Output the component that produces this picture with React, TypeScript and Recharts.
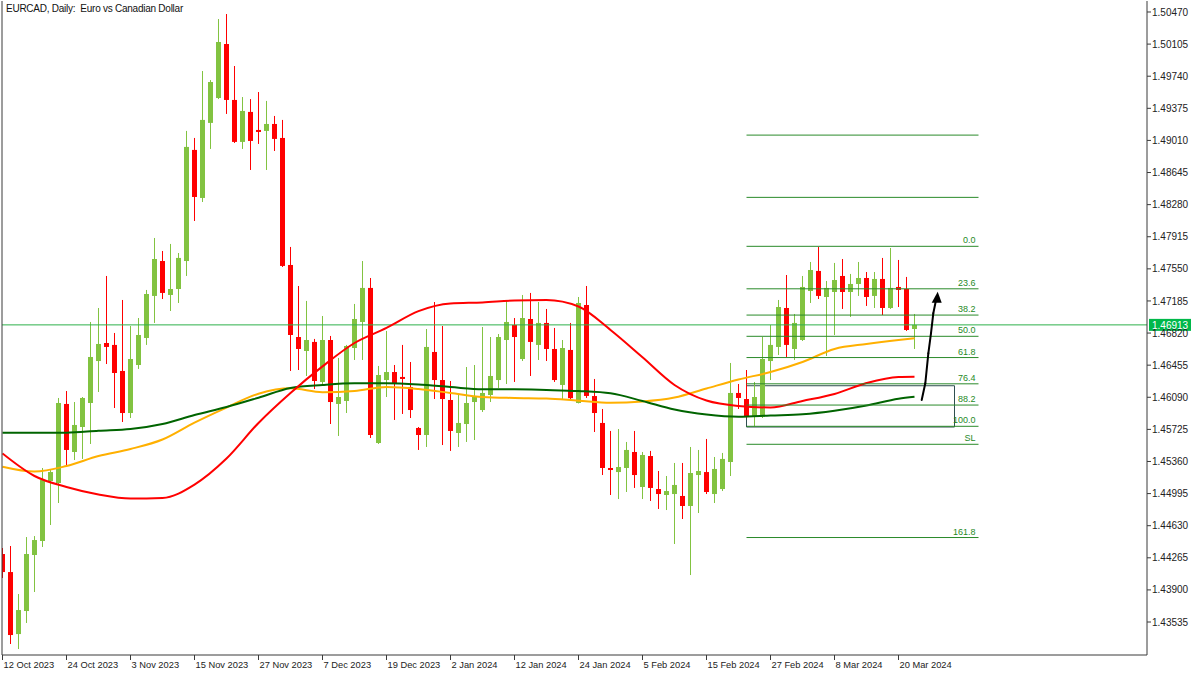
import React from 'react';
import {
  ComposedChart,
  Bar,
  Line,
  XAxis,
  YAxis,
  ReferenceLine,
  ReferenceArea,
  ReferenceDot,
} from 'recharts';

// ---------- DATA (EURCAD daily, 12 Oct 2023 – 22 Mar 2024) ----------
const opens = [
  1.44308, 1.44103, 1.43398, 1.4366, 1.44297, 1.44456, 1.45138, 1.45115, 1.46014, 1.45468,
  1.45752, 1.46025, 1.46502, 1.46707, 1.46685, 1.46389, 1.45911, 1.46457, 1.46764, 1.47242,
  1.47639, 1.47253, 1.47321, 1.47639, 1.48902, 1.48356, 1.49209, 1.49492, 1.50106, 1.4947,
  1.48993, 1.49334, 1.49129, 1.49118, 1.49197, 1.49038, 1.47594, 1.46775, 1.46616, 1.46719,
  1.46264, 1.46741, 1.46014, 1.46048, 1.4665, 1.46946, 1.47333, 1.4557, 1.46286, 1.46377,
  1.46321, 1.46207, 1.45741, 1.45661, 1.46605, 1.46286, 1.46059, 1.45684, 1.45786, 1.46036,
  1.45945, 1.46116, 1.46286, 1.46741, 1.46912, 1.46525, 1.4698, 1.46685, 1.46935, 1.46639,
  1.4623, 1.46628, 1.46025, 1.47139, 1.46104, 1.45798, 1.45286, 1.4524, 1.45286, 1.45468,
  1.4507, 1.45422, 1.45047, 1.44979, 1.4499, 1.44968, 1.44854, 1.45206, 1.4524, 1.4499,
  1.45047, 1.45354, 1.46139, 1.4607, 1.45866, 1.45866, 1.46502, 1.46662, 1.47105, 1.46639,
  1.46741, 1.47298, 1.47526, 1.4723, 1.47287, 1.47469, 1.47287, 1.47378, 1.47446, 1.47242,
  1.47435, 1.47105, 1.47344, 1.47321, 1.46866,
];
const highs = [
  1.44376, 1.44399, 1.43853, 1.44501, 1.44512, 1.45286, 1.45263, 1.46082, 1.46161, 1.46036,
  1.46093, 1.46946, 1.47105, 1.47469, 1.46821, 1.47196, 1.469, 1.46991, 1.4731, 1.47901,
  1.47753, 1.47833, 1.4773, 1.49118, 1.49038, 1.49799, 1.49696, 1.5039, 1.50447, 1.49856,
  1.49503, 1.4948, 1.4956, 1.49459, 1.49288, 1.49243, 1.47799, 1.47355, 1.47185, 1.46753,
  1.47014, 1.46787, 1.46537, 1.46685, 1.47151, 1.47639, 1.47446, 1.46446, 1.46844, 1.46457,
  1.46685, 1.46491, 1.45752, 1.46866, 1.47173, 1.469, 1.46275, 1.46116, 1.46434, 1.46457,
  1.46889, 1.46775, 1.46809, 1.47196, 1.46991, 1.47253, 1.47276, 1.47173, 1.47094, 1.46878,
  1.46741, 1.46935, 1.4723, 1.47355, 1.46298, 1.45957, 1.45707, 1.45729, 1.45582, 1.45707,
  1.45468, 1.4548, 1.45252, 1.45195, 1.45343, 1.45343, 1.45525, 1.45491, 1.45616, 1.45411,
  1.45457, 1.4648, 1.46241, 1.464, 1.46264, 1.46775, 1.46912, 1.47196, 1.4748, 1.47037,
  1.47469, 1.47628, 1.47799, 1.47412, 1.47617, 1.47662, 1.47492, 1.47628, 1.47514, 1.47514,
  1.47674, 1.47787, 1.47651, 1.47458, 1.47037,
];
const lows = [
  1.44035, 1.43285, 1.43228, 1.43524, 1.43876, 1.44388, 1.44638, 1.44888, 1.45309, 1.45377,
  1.45389, 1.45559, 1.4615, 1.46468, 1.45968, 1.45809, 1.45854, 1.46412, 1.46685, 1.46935,
  1.47207, 1.47071, 1.47162, 1.47469, 1.48094, 1.4831, 1.48913, 1.4948, 1.49311, 1.48981,
  1.48913, 1.48674, 1.4897, 1.48674, 1.4889, 1.47571, 1.46389, 1.464, 1.46332, 1.46184,
  1.46241, 1.45786, 1.4565, 1.45911, 1.46514, 1.46514, 1.45627, 1.45559, 1.46093, 1.45832,
  1.459, 1.45854, 1.45491, 1.45525, 1.4607, 1.45547, 1.4548, 1.45525, 1.45582, 1.45604,
  1.45923, 1.46036, 1.46196, 1.46241, 1.46264, 1.46502, 1.46332, 1.46514, 1.46502, 1.46264,
  1.4607, 1.4607, 1.4602, 1.46082, 1.45695, 1.45206, 1.44979, 1.44933, 1.45013, 1.45059,
  1.44933, 1.44911, 1.4482, 1.44808, 1.44422, 1.44706, 1.44069, 1.44774, 1.4499, 1.44888,
  1.45024, 1.45195, 1.45957, 1.45854, 1.45752, 1.45854, 1.46286, 1.46571, 1.46548, 1.46514,
  1.4673, 1.47162, 1.47207, 1.46559, 1.46798, 1.47094, 1.47003, 1.47242, 1.47128, 1.47105,
  1.47025, 1.47094, 1.47116, 1.46844, 1.46639,
];
const closes = [
  1.44103, 1.43387, 1.43671, 1.44308, 1.44467, 1.45149, 1.4524, 1.46025, 1.45491, 1.45775,
  1.46082, 1.46548, 1.46696, 1.46662, 1.46366, 1.45911, 1.46525, 1.46798, 1.47264, 1.47662,
  1.47276, 1.47321, 1.47674, 1.48936, 1.48367, 1.49243, 1.49674, 1.50129, 1.4947, 1.48993,
  1.49345, 1.49004, 1.49106, 1.49197, 1.49027, 1.47583, 1.46798, 1.46639, 1.46741, 1.46275,
  1.46741, 1.46036, 1.46093, 1.46673, 1.4698, 1.47333, 1.45661, 1.46343, 1.46377, 1.46252,
  1.46298, 1.45945, 1.45661, 1.46662, 1.46286, 1.4607, 1.45707, 1.45798, 1.46025, 1.46093,
  1.46139, 1.46332, 1.46775, 1.46946, 1.46775, 1.46991, 1.46719, 1.46935, 1.46639, 1.46286,
  1.4665, 1.4608, 1.47162, 1.46105, 1.45911, 1.45286, 1.45263, 1.45297, 1.45491, 1.45206,
  1.45434, 1.45059, 1.4499, 1.45024, 1.45093, 1.44854, 1.45229, 1.45252, 1.45013, 1.45275,
  1.45389, 1.46139, 1.46082, 1.45866, 1.46093, 1.46525, 1.46685, 1.47116, 1.46685, 1.46935,
  1.47344, 1.47537, 1.47242, 1.47333, 1.47423, 1.47287, 1.47378, 1.47446, 1.4723, 1.47435,
  1.47105, 1.47333, 1.4731, 1.46855, 1.46913,
];

// moving averages, read at every 4th bar
const maIndex = [
  0, 4, 8, 12, 16, 20, 24, 28, 32, 36, 40, 44, 48, 52, 56, 60, 64, 68, 72, 76, 80, 84, 88, 92,
  96, 100, 104, 108, 112, 114,
];
const maRed = [
  1.45451, 1.45195, 1.4507, 1.44985, 1.44939, 1.44945, 1.45098, 1.45394, 1.45798, 1.46139,
  1.46441, 1.46707, 1.46878, 1.47069, 1.47156, 1.47168, 1.4719, 1.47196, 1.47122, 1.46855,
  1.46545, 1.4623, 1.46053, 1.45991, 1.45974, 1.46048, 1.46127, 1.46252, 1.46321, 1.46324,
];
const maOrange = [
  1.45301, 1.45246, 1.45309, 1.45422, 1.45502, 1.4561, 1.45802, 1.45973, 1.4613, 1.46192,
  1.46147, 1.46161, 1.46207, 1.46184, 1.46139, 1.46093, 1.46082, 1.46076, 1.46051, 1.46028,
  1.46042, 1.46087, 1.4619, 1.46292, 1.46377, 1.46491, 1.46639, 1.46696, 1.46741, 1.4676,
];
const maGreen = [
  1.45687, 1.45687, 1.45687, 1.4571, 1.45729, 1.45786, 1.45888, 1.45979, 1.46085, 1.46196,
  1.4623, 1.46249, 1.46249, 1.46235, 1.46207, 1.46181, 1.46181, 1.46173, 1.46161, 1.46135,
  1.46048, 1.45951, 1.45894, 1.45869, 1.45883, 1.45897, 1.45937, 1.45997, 1.46074, 1.46097,
];

const dateTickIndex = [0, 8, 16, 24, 32, 40, 48, 56, 64, 72, 80, 88, 96, 104, 112];
const dateTickLabels = [
  '12 Oct 2023', '24 Oct 2023', '3 Nov 2023', '15 Nov 2023', '27 Nov 2023', '7 Dec 2023',
  '19 Dec 2023', '2 Jan 2024', '12 Jan 2024', '24 Jan 2024', '5 Feb 2024', '15 Feb 2024',
  '27 Feb 2024', '8 Mar 2024', '20 Mar 2024',
];
const priceTicks = [
  1.5047, 1.50105, 1.4974, 1.49375, 1.4901, 1.48645, 1.4828, 1.47915, 1.4755, 1.47185, 1.4682,
  1.46455, 1.4609, 1.45725, 1.4536, 1.44995, 1.4463, 1.44265, 1.439, 1.43535,
];
const lastPrice = 1.46913;

// Fibonacci tool
const fibHigh = 1.47806;
const fibLow = 1.4576;
const fibStartIdx = 93;
const fibEndIdx = 122;
const fibLevels = [-61.8, -27.2, 0, 23.6, 38.2, 50, 61.8, 76.4, 88.2, 100, 110, 161.8];
const fibLabels = ['', '', '0.0', '23.6', '38.2', '50.0', '61.8', '76.4', '88.2', '100.0', 'SL', '161.8'];

// demand zone rectangle
const zoneStartIdx = 93;
const zoneEndIdx = 119;
const zoneTop = 1.46221;
const zoneBottom = 1.45752;

// hand-drawn arrow
const arrowIdx = [114.9, 115.35, 115.73, 116.06, 116.35, 116.69];
const arrowPrice = [1.46059, 1.46249, 1.4659, 1.46817, 1.47045, 1.47196];
const arrowTipIdx = 116.9;
const arrowTipPrice = 1.4729;

// ---------- STYLE ----------
const FONT = '"Liberation Sans", Arial, sans-serif';
const BULL = '#82C341';
const BEAR = '#FF0000';
const AXIS = '#3A3A3A';
const FIB = '#2A8A2A';

const rows = opens.map((o, i) => {
  const k = maIndex.indexOf(i);
  return {
    idx: i,
    open: o,
    high: highs[i],
    low: lows[i],
    close: closes[i],
    range: [lows[i], highs[i]],
    red: k >= 0 ? maRed[k] : null,
    orange: k >= 0 ? maOrange[k] : null,
    green: k >= 0 ? maGreen[k] : null,
  };
});

const Candle = (props: any) => {
  const { x, y, width, height, payload } = props;
  if (!payload || payload.high == null) return null;
  const { open, close, high, low } = payload;
  const yTop = Math.min(y, y + height);
  const yBot = Math.max(y, y + height);
  const span = high - low;
  const toY = (v: number) => (span === 0 ? yTop : yTop + ((high - v) / span) * (yBot - yTop));
  const cx = Math.round(x + width / 2 - 0.5) + 0.5;
  const color = close >= open ? BULL : BEAR;
  const bTop = toY(Math.max(open, close));
  const bBot = toY(Math.min(open, close));
  return (
    <g>
      <line x1={cx} x2={cx} y1={yTop} y2={yBot} stroke={color} strokeWidth={1} />
      <rect x={cx - 2.5} y={bTop} width={5} height={Math.max(1, bBot - bTop)} fill={color} />
    </g>
  );
};

const DateTick = (props: any) => {
  const { x, y, payload } = props;
  const k = dateTickIndex.indexOf(payload.value);
  const label = k >= 0 ? dateTickLabels[k] : '';
  const px = Math.round(x - 0.5) + 0.5;
  return (
    <g>
      <line x1={px} x2={px} y1={y - 5} y2={y} stroke={AXIS} strokeWidth={1} />
      <text x={px + 1} y={y + 8} textAnchor="start" fontSize={9.3} fontFamily={FONT} fill="#222">
        {label}
      </text>
    </g>
  );
};

const PriceTag = (props: any) => {
  const vb = props.viewBox || {};
  const x = (vb.x || 0) + (vb.width || 0) + 2;
  const y = vb.y || 0;
  return (
    <g>
      <rect x={x} y={y - 6} width={42} height={12} fill="#00B84A" />
      <text x={x + 3} y={y + 4} fontSize={10} fontFamily={FONT} fill="#FFFFFF">
        {lastPrice.toFixed(5)}
      </text>
    </g>
  );
};

const ArrowHead = (props: any) => {
  const { cx, cy } = props;
  if (cx == null || cy == null) return null;
  return <polygon points={`${cx},${cy} ${cx - 6},${cy + 11} ${cx + 4},${cy + 11}`} fill="#000" />;
};

export default function App() {
  const arrowSegs = arrowIdx.slice(1).map((ix, k) => [
    { x: arrowIdx[k], y: arrowPrice[k] },
    { x: ix, y: arrowPrice[k + 1] },
  ]);
  return (
    <div style={{ position: 'absolute', left: 0, top: 0, width: 1200, height: 675, background: '#fff' }}>
      <ComposedChart
        width={1200}
        height={675}
        data={rows}
        margin={{ top: 1, right: 0, bottom: 0, left: 0 }}
      >
        <XAxis
          dataKey="idx"
          type="number"
          domain={[-0.0625, 143.0625]}
          allowDataOverflow
          ticks={dateTickIndex}
          interval={0}
          tick={<DateTick />}
          tickLine={false}
          tickSize={5}
          tickMargin={0}
          height={20}
          axisLine={{ stroke: AXIS }}
        />
        <YAxis
          yAxisId="frame"
          orientation="left"
          width={2}
          tick={false}
          tickLine={false}
          axisLine={{ stroke: AXIS }}
        />
        <YAxis
          orientation="right"
          type="number"
          domain={[1.4316, 1.50595]}
          allowDataOverflow
          ticks={priceTicks}
          interval={0}
          tickFormatter={(v: number) => v.toFixed(5)}
          width={53}
          tickSize={4}
          tickMargin={1}
          tick={{ fontSize: 10, fill: '#222', fontFamily: FONT }}
          axisLine={{ stroke: AXIS }}
          tickLine={{ stroke: AXIS }}
        />
        <ReferenceLine y={lastPrice} stroke="#2DB04B" strokeWidth={1} label={<PriceTag />} />
        <Bar dataKey="range" barSize={5} shape={<Candle />} isAnimationActive={false} />
        <Line type="monotone" dataKey="orange" stroke="#FFB000" strokeWidth={2} dot={false} connectNulls isAnimationActive={false} />
        <Line type="monotone" dataKey="green" stroke="#006400" strokeWidth={2} dot={false} connectNulls isAnimationActive={false} />
        <Line type="monotone" dataKey="red" stroke="#FF0000" strokeWidth={2} dot={false} connectNulls isAnimationActive={false} />
        {fibLevels.map((lv, k) => {
          const price = fibHigh - (lv / 100) * (fibHigh - fibLow);
          return (
            <ReferenceLine
              key={'fib' + k}
              segment={[
                { x: fibStartIdx, y: price },
                { x: fibEndIdx, y: price },
              ]}
              stroke={FIB}
              strokeWidth={1}
              ifOverflow="visible"
              label={
                fibLabels[k]
                  ? {
                      value: fibLabels[k],
                      position: 'insideBottomRight',
                      offset: 3,
                      fill: '#1F8A1F',
                      fontSize: 9,
                      fontFamily: FONT,
                    }
                  : undefined
              }
            />
          );
        })}
        <ReferenceArea
          x1={zoneStartIdx}
          x2={zoneEndIdx}
          y1={zoneBottom}
          y2={zoneTop}
          fill="none"
          fillOpacity={0}
          stroke="#2F4F4F"
          strokeWidth={1}
          ifOverflow="visible"
        />
        {arrowSegs.map((seg, k) => (
          <ReferenceLine key={'arr' + k} segment={seg} stroke="#000" strokeWidth={2} strokeLinecap="round" ifOverflow="visible" />
        ))}
        <ReferenceDot x={arrowTipIdx} y={arrowTipPrice} r={5} shape={<ArrowHead />} ifOverflow="visible" />
      </ComposedChart>
      <div
        style={{
          position: 'absolute',
          left: 6,
          top: 3,
          fontFamily: FONT,
          fontSize: 10,
          letterSpacing: -0.25,
          color: '#111',
          whiteSpace: 'pre',
        }}
      >
        {'EURCAD, Daily:  Euro vs Canadian Dollar'}
      </div>
    </div>
  );
}
